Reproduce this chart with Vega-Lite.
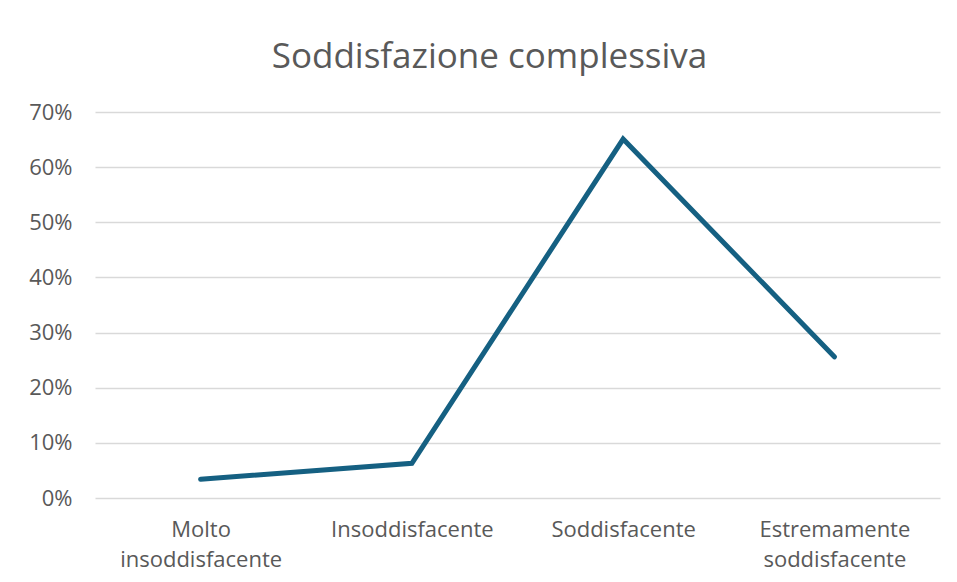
{
  "$schema": "https://vega.github.io/schema/vega-lite/v6.json",
  "autosize": {"type": "none"},
  "width": 845,
  "height": 386,
  "padding": {"left": 95, "top": 112, "right": 17, "bottom": 84},
  "background": "white",
  "title": {
    "text": "Soddisfazione complessiva",
    "anchor": "middle",
    "frame": "group",
    "dx": -28,
    "offset": 26,
    "fontSize": 35,
    "fontWeight": "normal",
    "font": "Open Sans",
    "color": "#595959"
  },
  "data": {
    "values": [
      {"categoria": "Molto insoddisfacente", "valore": 0.034},
      {"categoria": "Insoddisfacente", "valore": 0.063},
      {"categoria": "Soddisfacente", "valore": 0.651},
      {"categoria": "Estremamente soddisfacente", "valore": 0.256}
    ]
  },
  "mark": {"type": "line", "color": "#156082", "strokeWidth": 5, "strokeCap": "round", "strokeJoin": "miter"},
  "encoding": {
    "x": {
      "field": "categoria",
      "type": "nominal",
      "sort": null,
      "scale": {"type": "point", "padding": 0.5},
      "axis": {
        "title": null,
        "labelAngle": 0,
        "domain": false,
        "ticks": false,
        "grid": false,
        "labelExpr": "split(datum.label, ' ')",
        "labelLineHeight": 30,
        "labelPadding": 21,
        "labelFontSize": 22,
        "labelFont": "Open Sans",
        "labelColor": "#595959"
      }
    },
    "y": {
      "field": "valore",
      "type": "quantitative",
      "scale": {"domain": [0, 0.7], "nice": false},
      "axis": {
        "title": null,
        "values": [0, 0.1, 0.2, 0.3, 0.4, 0.5, 0.6, 0.7],
        "format": ".0%",
        "domain": false,
        "ticks": false,
        "gridColor": "#d9d9d9",
        "gridWidth": 1.5,
        "labelPadding": 23,
        "labelFontSize": 22,
        "labelFont": "Open Sans",
        "labelColor": "#595959"
      }
    }
  },
  "config": {"view": {"stroke": null}}
}
